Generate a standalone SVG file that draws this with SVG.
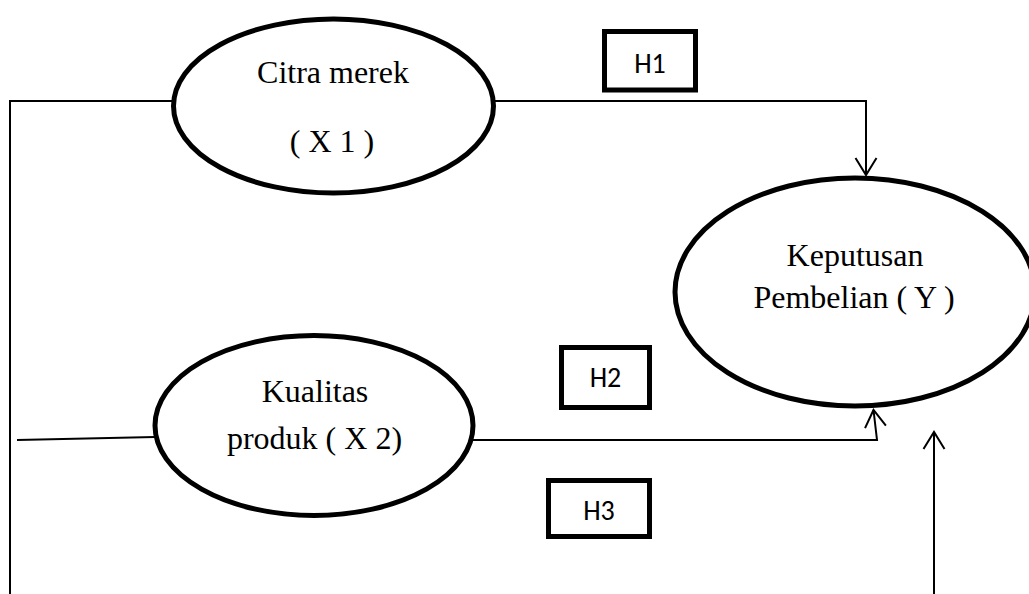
<svg xmlns="http://www.w3.org/2000/svg" width="1029" height="594" viewBox="0 0 1029 594">
  <style>
    .node { fill: #ffffff; stroke: #000000; stroke-width: 5; }
    .box { fill: #ffffff; stroke: #000000; stroke-width: 5; }
    .lbl { font-family: "Liberation Serif", "Times New Roman", serif; font-size: 32px; fill: #000000; text-anchor: middle; }
    .hl { font-family: "Carlito", "Liberation Sans", Arial, sans-serif; font-size: 28px; fill: #000000; text-anchor: middle; }
    .conn { fill: none; stroke: #000000; stroke-width: 2; }
  </style>
  <defs>
    <marker id="openArrow" markerUnits="userSpaceOnUse" orient="auto" markerWidth="22" markerHeight="26" viewBox="-20 -13 22 26" refX="0" refY="0" overflow="visible">
      <path d="M-17,-10.5 L0,0 L-17,10.5" fill="none" stroke="#000000" stroke-width="2"/>
    </marker>
  </defs>
  <rect x="0" y="0" width="1029" height="594" fill="#ffffff"/>

  <g id="connectors">
    <polyline class="conn" points="10,594 10,101 174,101"/>
    <polyline class="conn" points="493,101 866,101 866,175" marker-end="url(#openArrow)"/>
    <polyline class="conn" points="17,440 155,437"/>
    <polyline class="conn" points="473,440 877,440 873.5,410" marker-end="url(#openArrow)"/>
    <polyline class="conn" points="934,594 934,432" marker-end="url(#openArrow)"/>
  </g>

  <g id="node-x1">
    <ellipse class="node" cx="333.5" cy="106" rx="160" ry="87"/>
    <text class="lbl" x="333" y="83">Citra merek</text>
    <text class="lbl" x="332" y="152">( X 1 )</text>
  </g>

  <g id="node-x2">
    <ellipse class="node" cx="314" cy="425.5" rx="159" ry="90"/>
    <text class="lbl" x="315" y="402">Kualitas</text>
    <text class="lbl" x="314.5" y="449">produk ( X 2)</text>
  </g>

  <g id="node-y">
    <ellipse class="node" cx="855" cy="292" rx="180" ry="114"/>
    <text class="lbl" x="855" y="266">Keputusan</text>
    <text class="lbl" x="854" y="308">Pembelian ( Y )</text>
  </g>

  <g id="label-h1">
    <rect class="box" x="604.5" y="31.5" width="91" height="58.5"/>
    <text class="hl" x="650" y="73">H1</text>
  </g>

  <g id="label-h2">
    <rect class="box" x="561.5" y="347.5" width="88" height="60"/>
    <text class="hl" x="605.5" y="387">H2</text>
  </g>

  <g id="label-h3">
    <rect class="box" x="548.5" y="480.5" width="101" height="56"/>
    <text class="hl" x="599" y="520">H3</text>
  </g>
</svg>
